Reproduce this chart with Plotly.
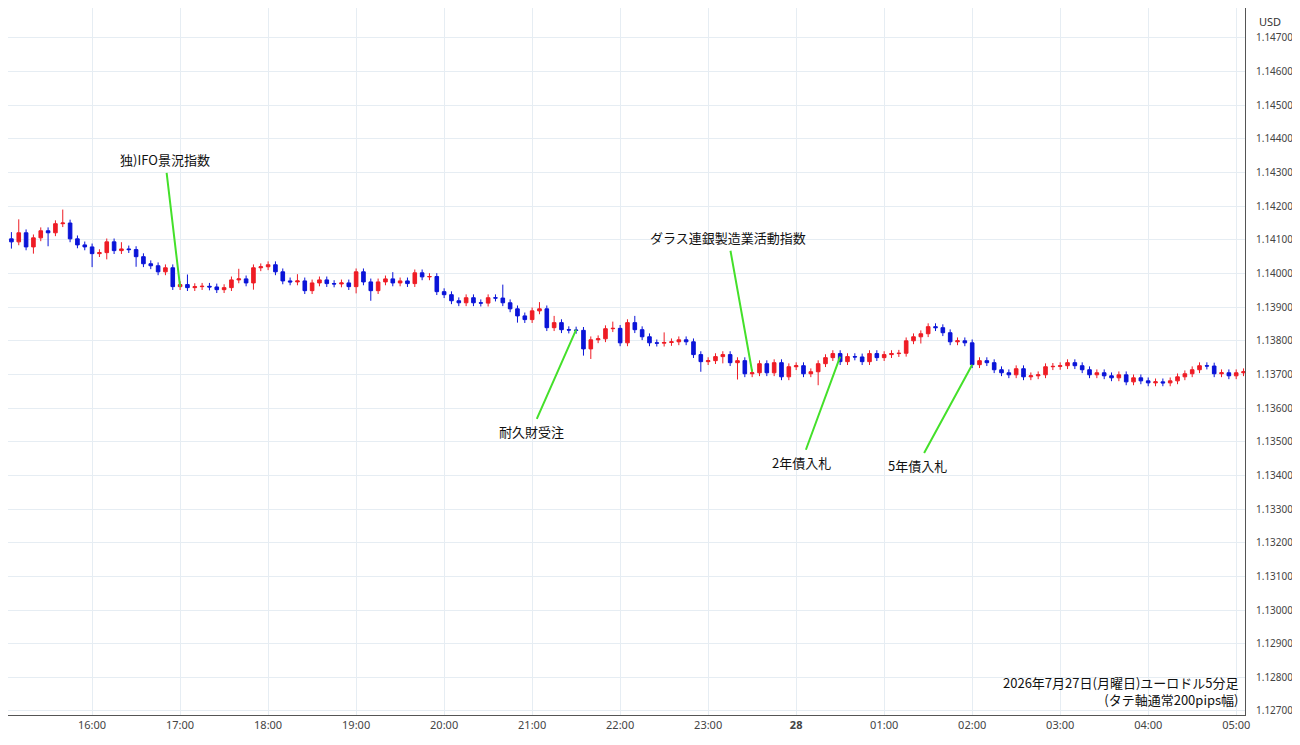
import plotly.graph_objects as go
import pandas as pd

first_open = 1.14059
closes = [
1.14103,1.14094,1.14121,1.14079,1.14106,1.14127,1.14121,1.14148,1.14150,1.14103,
1.14085,1.14079,1.14059,1.14062,1.14094,1.14068,1.14073,1.14071,1.14050,1.14029,
1.14023,1.14005,1.14017,1.13961,1.13967,1.13958,1.13961,1.13962,1.13960,1.13952,
1.13958,1.13981,1.13984,1.13972,1.14017,1.14020,1.14026,1.14005,1.13978,1.13975,
1.13978,1.13949,1.13972,1.13981,1.13970,1.13969,1.13972,1.13961,1.14005,1.13975,
1.13949,1.13975,1.13984,1.13972,1.13978,1.13970,1.14002,1.13990,1.13991,1.13946,
1.13937,1.13919,1.13913,1.13928,1.13913,1.13912,1.13928,1.13927,1.13913,1.13895,
1.13874,1.13863,1.13889,1.13895,1.13839,1.13854,1.13833,1.13832,1.13831,1.13776,
1.13803,1.13806,1.13836,1.13837,1.13794,1.13854,1.13833,1.13812,1.13794,1.13793,
1.13795,1.13797,1.13803,1.13797,1.13759,1.13738,1.13741,1.13753,1.13759,1.13735,
1.13741,1.13702,1.13705,1.13732,1.13705,1.13735,1.13693,1.13723,1.13726,1.13702,
1.13708,1.13732,1.13750,1.13762,1.13738,1.13753,1.13752,1.13738,1.13762,1.13750,
1.13759,1.13762,1.13763,1.13800,1.13812,1.13821,1.13842,1.13839,1.13824,1.13797,
1.13800,1.13794,1.13729,1.13741,1.13735,1.13714,1.13705,1.13699,1.13717,1.13693,
1.13696,1.13699,1.13723,1.13724,1.13726,1.13735,1.13726,1.13714,1.13699,1.13705,
1.13696,1.13690,1.13699,1.13678,1.13690,1.13681,1.13675,1.13678,1.13675,1.13681,
1.13693,1.13702,1.13714,1.13726,1.13725,1.13702,1.13705,1.13696,1.13705,1.13708]
wick_up = [
1,2,4,1,1,1,1,1,4,1, 1,1,1,1,1,1,2,1,1,1, 1,1,1,1,1,3,1,1,1,1,
1,1,3,1,1,1,1,1,1,1, 2,1,1,1,1,1,1,1,1,1, 1,1,1,2,1,1,1,1,1,1,
1,1,1,1,1,1,1,1,4,1, 1,1,1,2,1,2,1,1,1,1, 1,1,1,2,1,1,2,1,1,1,
3,1,1,1,1,1,1,1,1,1, 1,1,1,1,1,1,1,1,1,1, 1,1,1,1,1,1,1,1,1,1,
1,1,1,1,1,1,1,1,1,1, 1,1,1,1,1,1,1,1,1,1, 1,1,1,1,1,1,1,1,1,1,
1,1,1,1,1,1,1,1,1,1, 1,1,1,1,1,1,1,1,1,1]
wick_dn = [
2,2,1,1,2,1,4,1,1,1, 1,1,4,1,2,1,1,1,3,1, 1,1,1,1,1,1,1,1,1,1,
1,1,1,1,2,1,1,1,1,1, 1,1,1,1,1,1,1,1,2,1, 3,1,1,1,1,1,1,1,1,1,
1,1,1,1,1,1,1,1,1,1, 2,1,1,1,1,1,1,1,1,2, 3,1,1,1,1,1,1,1,1,1,
1,1,1,1,1,3,1,1,2,1, 5,1,1,1,1,1,1,1,1,1, 1,4,1,1,1,1,1,1,1,1,
1,1,1,1,1,2,1,1,1,1, 1,1,1,1,1,1,1,1,1,1, 1,1,1,1,1,1,1,1,1,1,
1,1,1,1,1,1,1,1,1,1, 1,1,1,1,1,1,1,1,1,1]

times = pd.date_range("2026-07-27 15:00", periods=len(closes), freq="5min")
opens = [first_open] + closes[:-1]
highs = [max(o, c) + u / 10000 for o, c, u in zip(opens, closes, wick_up)]
lows = [min(o, c) - d / 10000 for o, c, d in zip(opens, closes, wick_dn)]

tick_times = pd.date_range("2026-07-27 16:00", "2026-07-28 05:00", freq="1h")
tick_text = ["<b>28</b>" if t.hour == 0 else t.strftime("%H:%M") for t in tick_times]
ytick_vals = [round(1.127 + 0.001 * k, 3) for k in range(21)]

events = [
    ("独)IFO景況指数", 24, 1.13960, -15, -127),
    ("耐久財受注", 78, 1.13833, -45, 102),
    ("ダラス連銀製造業活動指数", 102, 1.13708, -24, -134),
    ("2年債入札", 114, 1.13753, -39, 106),
    ("5年債入札", 132, 1.13729, -55, 101),
]

fig = go.Figure(go.Candlestick(
    x=times, open=opens, high=highs, low=lows, close=closes,
    increasing=dict(line=dict(color="#ee1c25", width=1), fillcolor="#ee1c25"),
    decreasing=dict(line=dict(color="#0a14d8", width=1), fillcolor="#0a14d8"),
    whiskerwidth=0, showlegend=False, hoverinfo="skip"))

for txt, i, y, ax, ay in events:
    fig.add_annotation(x=times[i], y=y, text=txt, showarrow=True, arrowhead=0,
                       arrowwidth=2, arrowcolor="#44e02a", ax=ax, ay=ay,
                       standoff=0, startstandoff=2,
                       font=dict(size=13, color="#111", family="Noto Sans CJK JP"))

fig.add_annotation(xref="paper", yref="paper", x=0.997, y=0.005, xanchor="right", yanchor="bottom",
                   text="2026年7月27日(月曜日)ユーロドル5分足<br>(タテ軸通常200pips幅)",
                   showarrow=False, align="right",
                   font=dict(size=13, color="#111", family="Noto Sans CJK JP"))
fig.add_annotation(xref="paper", yref="paper", x=1.01, y=0.995, xanchor="left", yanchor="top",
                   text="USD", showarrow=False, font=dict(size=11, color="#333"))

fig.update_layout(
    width=1292, height=737, margin=dict(l=0, r=55, t=0, b=30, pad=0, autoexpand=False),
    paper_bgcolor="white", plot_bgcolor="white",
    font=dict(family="Noto Sans, Noto Sans CJK JP", color="#444"),
    xaxis=dict(range=[pd.Timestamp("2026-07-27 15:02:40"), pd.Timestamp("2026-07-28 05:06")],
               rangeslider=dict(visible=False), tickvals=tick_times, ticktext=tick_text,
               showgrid=True, gridcolor="#e6edf3", showline=True, linecolor="#555",
               ticks="", tickfont=dict(size=11, color="#444")),
    yaxis=dict(side="right", range=[1.12688, 1.14789], tickvals=ytick_vals, tickformat=".5f",
               showgrid=True, gridcolor="#e6edf3", showline=True, linecolor="#555",
               ticks="", tickfont=dict(size=10, color="#444"), ticklabelstandoff=8),
)
fig.write_html("out.html")
